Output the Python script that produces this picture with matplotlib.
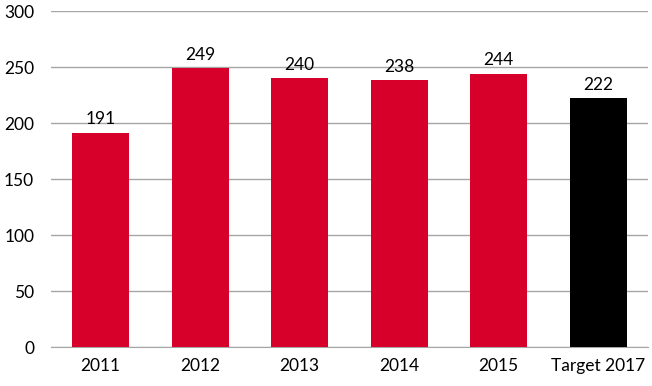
import matplotlib
matplotlib.use("Agg")
import matplotlib.pyplot as plt

categories = ["2011", "2012", "2013", "2014", "2015", "Target 2017"]
values = [191, 249, 240, 238, 244, 222]
colors = ["#D7002B"] * 5 + ["#000000"]
yticks = [0, 50, 100, 150, 200, 250, 300]

plt.rcParams['font.family'] = ['Lato', 'DejaVu Sans']
fig = plt.figure(figsize=(6.52, 3.86), dpi=100)
ax = fig.add_axes([0.078, 0.101, 0.916, 0.8705])
x = range(len(categories))
bars = ax.bar(x, values, width=0.57, color=colors, zorder=3)
for xi, v in zip(x, values):
    ax.text(xi, v + 5, str(v), ha="center", va="bottom", fontsize=12.5, color="#000000")
ax.set_xlim(-0.5, len(categories) - 0.5)
ax.set_ylim(0, 300)
ax.set_yticks(yticks)
ax.set_xticks(list(x))
ax.set_xticklabels(categories)
ax.yaxis.grid(True, color="#A6A6A6", linewidth=1, zorder=0)
for s in ["top", "right", "left"]:
    ax.spines[s].set_visible(False)
ax.spines["bottom"].set_color("#A6A6A6")
ax.tick_params(axis="both", length=0, labelsize=12.5, colors="#000000")
ax.tick_params(axis="y", pad=12)
ax.tick_params(axis="x", pad=8)
fig.savefig("out.png", dpi=100)
